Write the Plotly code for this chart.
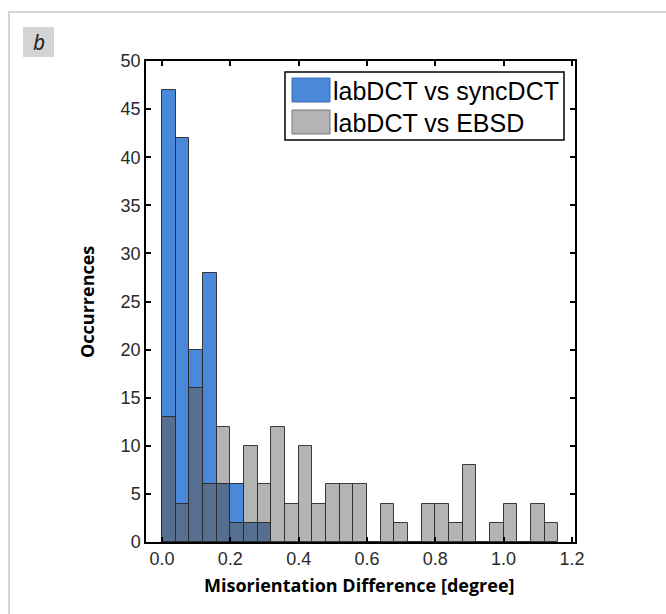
import plotly.graph_objects as go

# ---- data (bin width 0.04 degrees, bins start at 0) ----
bin_width = 0.04
bin_starts = [round(i * 0.04, 2) for i in range(29)]
sync_counts = [47, 42, 20, 28, 6, 6, 2, 2]
ebsd_counts = [13, 4, 16, 6, 12, 2, 10, 6, 12, 4, 10, 4, 6, 6, 6, 0, 4, 2, 0, 4, 4, 2, 8, 0, 2, 4, 0, 4, 2]
x_ticks = [0.0, 0.2, 0.4, 0.6, 0.8, 1.0, 1.2]
x_tick_labels = ["0.0", "0.2", "0.4", "0.6", "0.8", "1.0", "1.2"]
y_ticks = [0, 5, 10, 15, 20, 25, 30, 35, 40, 45, 50]
legend_labels = ["labDCT vs syncDCT", "labDCT vs EBSD"]

BLUE = "#4a89d9"
GRAY = "#b4b4b4"
DARK = "#566f90"
EDGE = "rgba(40,40,40,0.9)"

W, H = 666, 614
L, R, T, B = 146, 575, 61, 542

def px(x):
    return (x - L) / (R - L)

def py(y):
    return (B - y) / (B - T)

sync_centers = [s + bin_width / 2 for s in bin_starts[:len(sync_counts)]]
ebsd_centers = [s + bin_width / 2 for s in bin_starts[:len(ebsd_counts)]]
overlap = [min(a, b) for a, b in zip(sync_counts, ebsd_counts)]

fig = go.Figure()
fig.add_trace(go.Bar(x=ebsd_centers, y=ebsd_counts, width=bin_width,
                     marker=dict(color=GRAY, line=dict(color=EDGE, width=1)),
                     name=legend_labels[1], showlegend=False))
fig.add_trace(go.Bar(x=sync_centers, y=sync_counts, width=bin_width,
                     marker=dict(color=BLUE, line=dict(color=EDGE, width=1)),
                     name=legend_labels[0], showlegend=False))
fig.add_trace(go.Bar(x=sync_centers, y=overlap, width=bin_width,
                     marker=dict(color=DARK, line=dict(color=EDGE, width=1)),
                     showlegend=False, hoverinfo="skip"))

axis_common = dict(showline=True, linecolor="black", linewidth=1.5, mirror="ticks",
                   ticks="inside", ticklen=5, tickwidth=1.5, tickcolor="black",
                   showgrid=False, zeroline=False,
                   tickfont=dict(family="Liberation Sans, Arial", size=18, color="#2a2a2a"))

fig.update_layout(
    width=W, height=H,
    margin=dict(l=L, r=W - R, t=T, b=H - B),
    paper_bgcolor="white", plot_bgcolor="white",
    barmode="overlay", bargap=0,
    xaxis=dict(range=[-0.047, 1.209], tickvals=x_ticks, ticktext=x_tick_labels, **axis_common),
    yaxis=dict(range=[0, 50], tickvals=y_ticks, **axis_common),
    showlegend=False,
)

shapes = []
# outer panel frame (cropped at right/bottom)
shapes.append(dict(type="rect", xref="paper", yref="paper",
                   x0=px(9), x1=px(720), y0=py(720), y1=py(12),
                   line=dict(color="#c8c8c8", width=1.5), fillcolor="rgba(0,0,0,0)", layer="below"))
# panel label box
shapes.append(dict(type="rect", xref="paper", yref="paper",
                   x0=px(23), x1=px(54), y0=py(57), y1=py(27),
                   line=dict(width=0), fillcolor="#d4d4d4"))
# legend box
shapes.append(dict(type="rect", xref="paper", yref="paper",
                   x0=px(285), x1=px(564), y0=py(140), y1=py(72),
                   line=dict(color="black", width=1.5), fillcolor="white"))
shapes.append(dict(type="rect", xref="paper", yref="paper",
                   x0=px(292), x1=px(330), y0=py(102), y1=py(78),
                   line=dict(color="#3d6fb0", width=1), fillcolor=BLUE))
shapes.append(dict(type="rect", xref="paper", yref="paper",
                   x0=px(292), x1=px(330), y0=py(134), y1=py(110),
                   line=dict(color="#777777", width=1), fillcolor=GRAY))

annotations = [
    dict(text="<i>b</i>", xref="paper", yref="paper", x=px(38.5), y=py(42),
         showarrow=False, xanchor="center", yanchor="middle",
         font=dict(family="Noto Sans, Open Sans", size=21, color="#222")),
    dict(text=legend_labels[0], xref="paper", yref="paper", x=px(331), y=py(91),
         showarrow=False, xanchor="left", yanchor="middle",
         font=dict(family="Liberation Sans, Arial", size=25, color="black")),
    dict(text=legend_labels[1], xref="paper", yref="paper", x=px(331), y=py(123),
         showarrow=False, xanchor="left", yanchor="middle",
         font=dict(family="Liberation Sans, Arial", size=25, color="black")),
    dict(text="<b>Occurrences</b>", xref="paper", yref="paper", x=px(87), y=py(302),
         showarrow=False, textangle=-90, xanchor="center", yanchor="middle",
         font=dict(family="Open Sans, Noto Sans", size=18, color="black")),
    dict(text="<b>Misorientation Difference [degree]</b>", xref="paper", yref="paper",
         x=px(359), y=py(585), showarrow=False, xanchor="center", yanchor="middle",
         font=dict(family="Open Sans, Noto Sans", size=18, color="black")),
]
fig.update_layout(shapes=shapes, annotations=annotations)

fig.write_html("out.html", config={"displayModeBar": False},
               post_script="document.body.style.margin='0';")
